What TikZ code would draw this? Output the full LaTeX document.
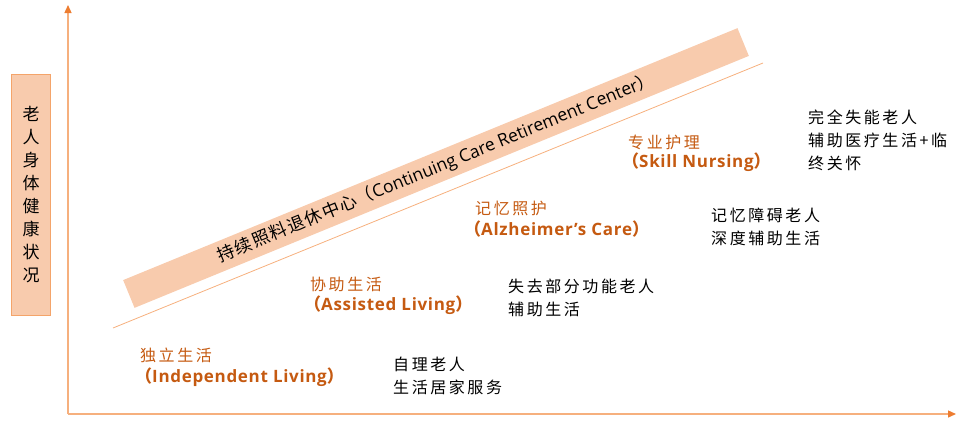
\documentclass[tikz,border=0pt]{standalone}
\usepackage{fontspec}
\usetikzlibrary{arrows.meta}
\newfontfamily\cjk{Noto Sans CJK SC}[LetterSpace=16]
\newfontfamily\cjkband{Noto Sans CJK SC}[LetterSpace=8]
\newfontfamily\cjkplain{Noto Sans CJK SC}
\newfontfamily\latin{Open Sans}
\newfontfamily\latinsp{Open Sans}[LetterSpace=4]
\definecolor{axisc}{HTML}{F6B07E}
\definecolor{tipc}{HTML}{ED7D31}
\definecolor{bandc}{HTML}{F8CBAD}
\definecolor{boxline}{HTML}{F4A46A}
\definecolor{orangetxt}{HTML}{C55A11}
\tikzset{
  axisline/.style={draw=axisc, line width=1.3pt, -{Triangle[length=8pt,width=7pt,color=tipc]}},
  cat/.style={anchor=west, inner sep=0pt, text=orangetxt, font=\cjk\fontsize{16}{20}\selectfont},
  cateng/.style={anchor=west, inner sep=0pt, text=orangetxt, font=\latinsp\bfseries\fontsize{17}{20}\selectfont},
  desc/.style={anchor=west, inner sep=0pt, align=left, text=black, font=\cjk\fontsize{16}{23}\selectfont},
}
\newcommand{\lp}{{\cjkplain （}}
\newcommand{\rp}{{\cjkplain ）}}
\begin{document}
\begin{tikzpicture}[x=1pt,y=-1pt]
\useasboundingbox (0,0) rectangle (957,423);
% axes
\coordinate (O) at (68,414);
\coordinate (Ytop) at (68,5);
\coordinate (Xend) at (956,414);
\draw[axisline] (O) -- (Ytop);
\draw[axisline] (O) -- (Xend);
% y label box
\node (ylabel) [draw=boxline, line width=1pt, fill=bandc, minimum width=39pt, minimum height=241pt, inner sep=0pt, align=center,
  font=\cjkplain\fontsize{17}{22.9}\selectfont] at (31.2,194.5) {老\\人\\身\\体\\健\\康\\状\\况};
% band
\node (band) [fill=bandc, minimum width=664pt, minimum height=30pt, inner sep=0pt, rotate=22.3,
  font=\cjkband\fontsize{17.5}{20}\selectfont] at (436,168) {持续照料退休中心\lp{\latin Continuing Care Retirement Center}\rp};
% thin line
\coordinate (L1) at (113,328);
\coordinate (L2) at (763,63);
\draw[axisc, line width=0.8pt] (L1) -- (L2);
% categories
\node (sn1) [cat] at (628,142) {专业护理};
\node (sn2) [cateng] at (622,162) {\lp Skill Nursing\rp};
\node (al1) [cat] at (475,208) {记忆照护};
\node (al2) [cateng] at (464,229) {\lp Alzheimer’s Care\rp};
\node (as1) [cat] at (310,284) {协助生活};
\node (as2) [cateng] at (304,305) {\lp Assisted Living\rp};
\node (in1) [cat] at (140,355) {独立生活};
\node (in2) [cateng] at (135,377) {\lp Independent Living\rp};
% descriptions
\node (d1) [desc] at (808,140) {完全失能老人\\辅助医疗生活+临\\终关怀};
\node (d2) [desc] at (711,227) {记忆障碍老人\\深度辅助生活};
\node (d3) [desc] at (508,297.5) {失去部分功能老人\\辅助生活};
\node (d4) [desc] at (393,375.5) {自理老人\\生活居家服务};
\end{tikzpicture}
\end{document}
